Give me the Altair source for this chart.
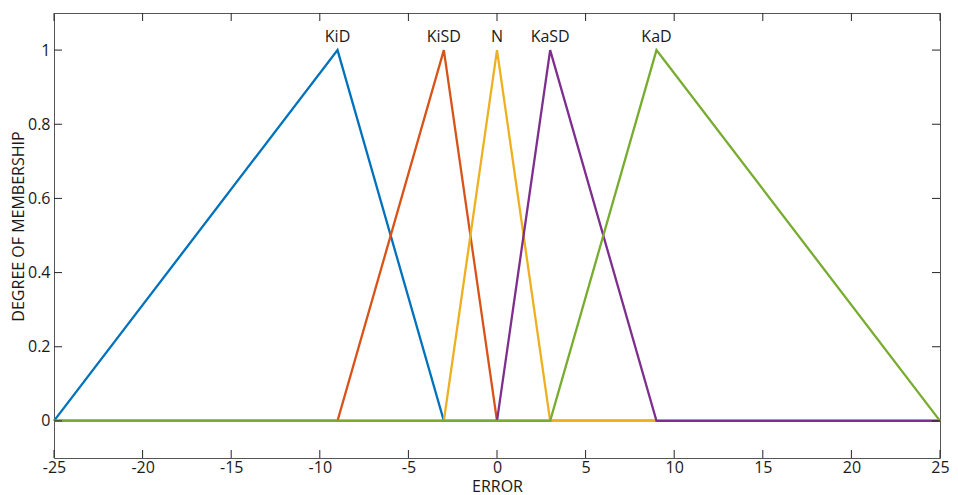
import altair as alt
import pandas as pd

# Membership function breakpoints (x, y) for each fuzzy set
names = ["KiD", "KiSD", "N", "KaSD", "KaD"]
colors = ["#0072BD", "#D95319", "#EDB120", "#7E2F8E", "#77AC30"]
xs = [
    [-25, -9, -3, 25],
    [-25, -9, -3, 0, 25],
    [-25, -3, 0, 3, 25],
    [-25, 0, 3, 9, 25],
    [-25, 3, 9, 25],
]
ys = [
    [0, 1, 0, 0],
    [0, 0, 1, 0, 0],
    [0, 0, 1, 0, 0],
    [0, 0, 1, 0, 0],
    [0, 0, 1, 0],
]
peaks = [-9, -3, 0, 3, 9]
x_ticks = [-25, -20, -15, -10, -5, 0, 5, 10, 15, 20, 25]
y_ticks = [0, 0.2, 0.4, 0.6, 0.8, 1]

W, H = 886, 445
FONT = "Open Sans"
FS = 16

rows = []
for i, n in enumerate(names):
    for j, (xv, yv) in enumerate(zip(xs[i], ys[i])):
        rows.append({"name": n, "x": xv, "y": yv, "o": j})
df = pd.DataFrame(rows)
lab = pd.DataFrame({"name": names, "x": peaks, "y": [1] * len(names)})
xt = pd.DataFrame({"v": x_ticks})
yt = pd.DataFrame({"v": y_ticks})

xscale = alt.Scale(domain=[-25, 25], nice=False, zero=False)
yscale = alt.Scale(domain=[-0.1, 1.1], nice=False, zero=False)

xaxis = alt.Axis(values=x_ticks, ticks=False, domain=False, grid=False,
                 labelExpr="'' + datum.value", labelFont=FONT, labelFontSize=FS,
                 labelColor="#1a1a1a", labelPadding=1, labelFlush=False,
                 labelOverlap=False, title="ERROR",
                 titleFont=FONT, titleFontSize=FS, titleFontWeight="normal",
                 titleColor="#1a1a1a", titlePadding=3)
yaxis = alt.Axis(values=y_ticks, ticks=False, domain=False, grid=False,
                 labelExpr="'' + datum.value", labelFont=FONT, labelFontSize=FS,
                 labelColor="#1a1a1a", labelPadding=4, labelFlush=False,
                 labelOverlap=False, title="DEGREE OF MEMBERSHIP",
                 titleFont=FONT, titleFontSize=FS, titleFontWeight="normal",
                 titleColor="#1a1a1a", titlePadding=1, titleY=213)

layers = []
for i, n in enumerate(names):
    enc = dict(
        x=alt.X("x:Q", scale=xscale, axis=xaxis),
        y=alt.Y("y:Q", scale=yscale, axis=yaxis),
        order="o:Q",
    )
    layers.append(
        alt.Chart(df).transform_filter(alt.datum.name == n)
        .mark_line(color=colors[i], strokeWidth=2.3).encode(**enc)
    )

text = alt.Chart(lab).mark_text(baseline="bottom", dy=-5, font=FONT, fontSize=FS,
                                color="#1a1a1a").encode(
    x=alt.X("x:Q", scale=xscale, axis=xaxis),
    y=alt.Y("y:Q", scale=yscale, axis=yaxis), text="name:N")

tick_color = "#262626"
xb = alt.Chart(xt).mark_rule(color=tick_color, strokeWidth=1).encode(
    x=alt.X("v:Q", scale=xscale, axis=xaxis), y=alt.value(H - 8), y2=alt.value(H))
xtop = alt.Chart(xt).mark_rule(color=tick_color, strokeWidth=1).encode(
    x=alt.X("v:Q", scale=xscale, axis=xaxis), y=alt.value(0), y2=alt.value(8))
yl = alt.Chart(yt).mark_rule(color=tick_color, strokeWidth=1).encode(
    y=alt.Y("v:Q", scale=yscale, axis=yaxis), x=alt.value(0), x2=alt.value(8))
yr = alt.Chart(yt).mark_rule(color=tick_color, strokeWidth=1).encode(
    y=alt.Y("v:Q", scale=yscale, axis=yaxis), x=alt.value(W - 8), x2=alt.value(W))

chart = alt.layer(*layers, xb, xtop, yl, yr, text).properties(
    width=W, height=H,
    autosize=alt.AutoSizeParams(type="none"),
    padding={"left": 46, "top": 5, "right": 10, "bottom": 37},
    background="white",
).configure_view(stroke="#555555", strokeWidth=1)

chart.save("out.html", embed_options={"renderer": "svg", "actions": False})
